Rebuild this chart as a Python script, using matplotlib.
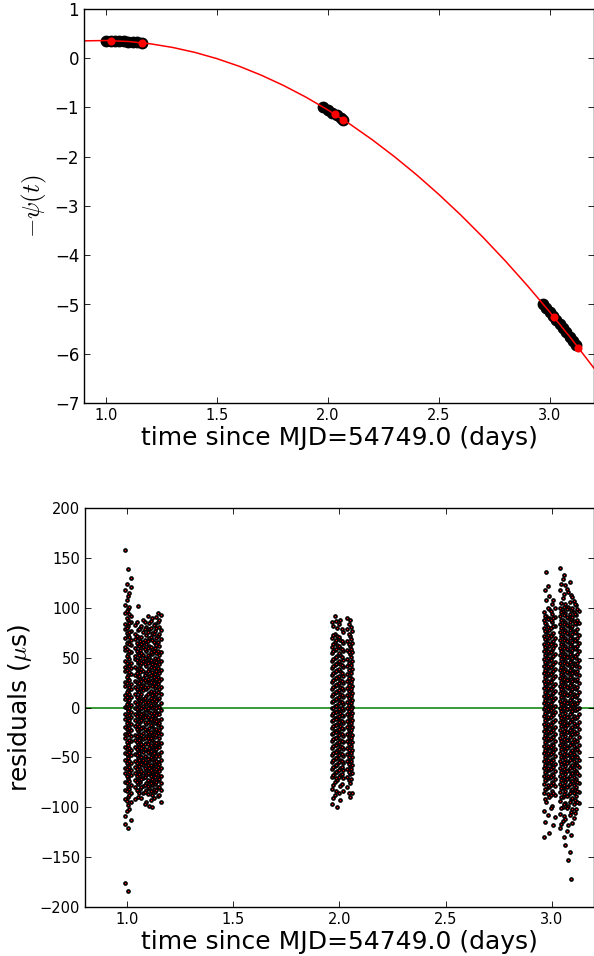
import numpy as np
import matplotlib.pyplot as plt

plt.rcParams['mathtext.fontset'] = 'cm'
plt.rcParams['xtick.direction'] = 'in'
plt.rcParams['ytick.direction'] = 'in'
plt.rcParams['xtick.top'] = True
plt.rcParams['ytick.right'] = True
plt.rcParams['xtick.major.size'] = 4
plt.rcParams['ytick.major.size'] = 4
plt.rcParams['xtick.major.width'] = 0.6
plt.rcParams['ytick.major.width'] = 0.6
plt.rcParams['axes.linewidth'] = 1.0

# model phase curve -psi(t), read every 0.1 day
curve_t = [0.9, 1.0, 1.1, 1.2, 1.3, 1.4, 1.5, 1.6, 1.7, 1.8, 1.9, 2.0,
           2.1, 2.2, 2.3, 2.4, 2.5, 2.6, 2.7, 2.8, 2.9, 3.0, 3.1, 3.2]
curve_psi = [0.353, 0.36, 0.34, 0.293, 0.219, 0.119, -0.009, -0.163, -0.345,
             -0.553, -0.788, -1.05, -1.339, -1.655, -1.998, -2.367, -2.764,
             -3.187, -3.638, -4.115, -4.619, -5.15, -5.708, -6.293]

# measured phases (black band)
obs_t = [1.00, 1.02, 1.04, 1.06, 1.08, 1.10, 1.12, 1.14, 1.16,
         1.98, 2.00, 2.02, 2.04, 2.06, 2.07,
         2.97, 2.985, 3.00, 3.015, 3.03, 3.045, 3.06, 3.075, 3.09, 3.105, 3.12]
obs_psi = [0.36, 0.358, 0.355, 0.351, 0.346, 0.34, 0.333, 0.325, 0.315,
           -0.995, -1.05, -1.106, -1.162, -1.22, -1.25,
           -4.988, -5.069, -5.15, -5.232, -5.315, -5.398, -5.482, -5.566,
           -5.651, -5.736, -5.823]

# red markers
mark_t = [1.02, 1.16, 2.03, 2.07, 3.02, 3.13]
mark_psi = [0.358, 0.315, -1.134, -1.25, -5.26, -5.88]

# residuals (microseconds), one list per column of TOAs
cols_A_t = [0.990, 1.003, 1.016, 0.996, 1.009]
cols_A = [
    [158, 118, 103, 95, 84, 79, 70, 61, 58, 47, 41, 37, 26, 22, 13, 9, 1, -7, -12, -20, -27, -31, -40, -46, -53, -61, -66, -75, -83, -92, -109, -117, -176],
    [139, 112, 99, 88, 82, 73, 66, 54, 51, 44, 33, 29, 18, 15, 6, -2, -4, -14, -18, -25, -36, -38, -49, -51, -58, -70, -72, -80, -90, -98, -121, -184],
    [130, 121, 92, 86, 77, 68, 63, 56, 45, 40, 34, 24, 19, 11, 3, -5, -10, -17, -23, -29, -34, -43, -48, -56, -63, -68, -78, -86, -95, -113],
    [124, 108, 97, 90, 80, 75, 65, 59, 52, 45, 38, 31, 25, 16, 11, 4, -1, -9, -16, -22, -28, -35, -42, -47, -56, -62, -69, -76, -84, -94, -104],
    [115, 101, 94, 85, 76, 71, 64, 57, 49, 42, 36, 28, 21, 14, 8, 0, -8, -13, -21, -27, -33, -41, -45, -54, -60, -65, -74, -82, -88, -102],
]
cols_B_t = [1.038, 1.048, 1.058, 1.074, 1.088, 1.102, 1.116, 1.130, 1.144, 1.156,
            1.043, 1.053, 1.066, 1.081, 1.095, 1.109, 1.123, 1.137, 1.150]
cols_B = [
    [83, 74, 69, 60, 52, 49, 41, 33, 27, 21, 14, 6, 0, -7, -13, -19, -28, -33, -40, -47, -54, -60, -66, -73, -80, -92],
    [102, 78, 71, 63, 55, 45, 38, 31, 24, 17, 10, 3, -4, -10, -16, -24, -30, -37, -44, -51, -57, -64, -70, -77, -84, -90],
    [80, 67, 58, 50, 43, 36, 29, 20, 12, 5, -2, -9, -15, -22, -31, -35, -42, -49, -55, -62, -69, -75, -82],
    [88, 76, 66, 61, 53, 47, 37, 30, 23, 18, 9, 2, -6, -11, -20, -26, -32, -39, -45, -53, -58, -66, -71, -79, -86],
    [81, 73, 64, 57, 48, 42, 35, 26, 19, 12, 4, -3, -8, -17, -23, -29, -36, -43, -50, -56, -63, -68, -76, -83, -95],
    [85, 79, 70, 62, 51, 46, 39, 32, 25, 15, 8, 1, -5, -12, -21, -27, -34, -41, -46, -54, -61, -67, -74, -81, -99],
    [90, 75, 68, 59, 54, 44, 36, 28, 22, 13, 7, -1, -9, -14, -19, -28, -33, -40, -48, -52, -59, -65, -72, -78, -88, -100],
    [84, 77, 65, 60, 50, 43, 34, 27, 20, 11, 5, -4, -11, -16, -25, -30, -38, -44, -51, -57, -64, -70, -77, -85],
    [95, 86, 72, 66, 57, 49, 40, 31, 24, 16, 9, 2, -6, -13, -18, -26, -35, -39, -47, -55, -60, -68, -73, -80, -89],
    [93, 78, 69, 56, 47, 38, 29, 21, 14, 5, -3, -12, -20, -27, -36, -45, -53, -61, -69, -76, -83, -95],
    [86, 72, 65, 57, 48, 39, 35, 26, 19, 11, 4, -2, -9, -17, -22, -29, -35, -42, -48, -56, -62, -69, -75, -83],
    [79, 70, 62, 53, 46, 40, 32, 25, 16, 8, 1, -6, -14, -19, -27, -33, -40, -46, -53, -59, -67, -73, -86],
    [82, 71, 64, 55, 45, 39, 27, 22, 14, 7, -1, -7, -13, -21, -28, -37, -41, -50, -57, -64, -72, -80, -91],
    [86, 79, 68, 59, 50, 44, 33, 28, 21, 10, 6, -2, -10, -15, -22, -31, -37, -42, -49, -55, -61, -70, -78, -85, -97],
    [92, 76, 67, 60, 53, 45, 37, 29, 21, 14, 6, -1, -10, -15, -25, -31, -37, -45, -52, -58, -66, -73, -79, -87],
    [87, 80, 71, 61, 56, 48, 41, 33, 26, 17, 10, 3, -6, -12, -18, -25, -31, -38, -44, -50, -58, -63, -69, -76, -84, -93],
    [83, 74, 66, 57, 47, 40, 31, 25, 16, 9, 1, -6, -13, -22, -27, -35, -42, -46, -55, -61, -67, -74, -82, -91],
    [91, 80, 70, 63, 55, 46, 37, 29, 22, 14, 7, -1, -8, -14, -22, -28, -36, -42, -49, -54, -62, -67, -75, -83],
    [88, 81, 74, 62, 53, 44, 35, 27, 19, 10, 1, -7, -16, -23, -31, -40, -49, -57, -64, -72, -80, -88],
]
cols_C_t = [1.964, 1.977, 1.990, 2.003, 2.016, 2.037, 2.049, 2.060,
            1.970, 1.983, 1.997, 2.010, 2.043, 2.055]
cols_C = [
    [86, 70, 61, 55, 47, 40, 33, 26, 19, 12, 6, -1, -8, -14, -21, -27, -34, -41, -48, -55, -62, -70, -82, -97],
    [92, 74, 66, 58, 50, 43, 36, 29, 22, 15, 8, 2, -5, -11, -18, -24, -31, -38, -45, -52, -59, -66, -75, -88],
    [80, 72, 63, 52, 45, 38, 31, 24, 17, 10, 3, -4, -10, -17, -23, -30, -36, -43, -50, -57, -64, -73, -100],
    [88, 68, 60, 53, 44, 37, 28, 21, 14, 7, 0, -6, -13, -19, -26, -33, -39, -46, -53, -61, -68, -79, -93],
    [76, 65, 57, 48, 41, 32, 25, 18, 11, 4, -3, -9, -16, -22, -29, -35, -42, -49, -56, -63, -71, -84],
    [90, 79, 67, 58, 49, 42, 34, 27, 20, 13, 6, -1, -7, -14, -20, -27, -34, -41, -47, -54, -62, -70, -80],
    [88, 72, 62, 54, 46, 38, 31, 24, 16, 9, 2, -5, -12, -18, -25, -32, -38, -45, -52, -59, -67, -76, -90],
    [77, 65, 56, 47, 39, 29, 22, 15, 8, 1, -6, -13, -20, -28, -35, -43, -50, -58, -66, -86],
    [82, 73, 64, 57, 49, 42, 35, 28, 21, 14, 7, 0, -6, -13, -19, -26, -32, -39, -46, -53, -60, -68, -78, -91],
    [87, 68, 59, 51, 44, 37, 30, 23, 16, 9, 2, -5, -12, -18, -25, -31, -38, -45, -51, -58, -65, -71, -84],
    [84, 71, 62, 55, 47, 39, 32, 25, 18, 11, 5, -2, -9, -15, -22, -28, -35, -42, -48, -55, -63, -70, -86],
    [79, 67, 59, 51, 43, 35, 27, 20, 13, 6, -1, -8, -14, -21, -27, -34, -40, -47, -54, -60, -67, -77],
    [84, 74, 64, 56, 45, 38, 30, 23, 17, 10, 3, -4, -10, -17, -23, -30, -37, -43, -50, -57, -65, -73, -86],
    [81, 69, 59, 51, 43, 35, 26, 19, 12, 5, -2, -9, -16, -23, -31, -39, -46, -54, -62, -72],
]
cols_D_t = [2.963, 2.976, 2.989, 3.002, 3.014,
            3.039, 3.052, 3.065, 3.078, 3.091, 3.104, 3.117, 3.127,
            2.969, 2.982, 2.995, 3.008,
            3.045, 3.058, 3.071, 3.085, 3.098, 3.111, 3.122]
cols_D = [
    [96, 88, 80, 72, 64, 57, 49, 42, 35, 27, 20, 12, 5, -2, -9, -17, -24, -31, -39, -46, -54, -61, -69, -77, -86, -104, -130],
    [136, 108, 92, 84, 76, 68, 60, 53, 45, 38, 31, 23, 16, 9, 1, -6, -13, -21, -28, -35, -43, -50, -57, -65, -73, -82, -95],
    [112, 99, 90, 78, 70, 62, 55, 47, 40, 33, 25, 18, 10, 3, -4, -11, -19, -26, -33, -41, -48, -56, -63, -71, -80, -90, -126],
    [104, 94, 86, 74, 66, 58, 51, 43, 36, 29, 21, 14, 7, -1, -7, -15, -22, -30, -37, -44, -52, -59, -67, -75, -84, -99],
    [100, 91, 82, 70, 63, 54, 46, 39, 32, 24, 17, 10, 2, -5, -13, -20, -27, -34, -42, -49, -57, -64, -72, -79, -88, -110],
    [140, 118, 100, 92, 84, 76, 68, 60, 53, 45, 38, 30, 22, 15, 7, 0, -8, -15, -23, -31, -38, -46, -54, -61, -69, -77, -85, -94, -107, -121],
    [129, 110, 97, 88, 80, 72, 64, 56, 49, 41, 33, 26, 18, 11, 3, -4, -12, -19, -27, -35, -42, -50, -57, -65, -73, -81, -90, -100, -114],
    [123, 104, 95, 86, 78, 70, 62, 54, 47, 39, 31, 24, 16, 8, 1, -6, -14, -21, -29, -37, -44, -52, -59, -67, -75, -84, -96, -112, -138],
    [116, 101, 90, 82, 74, 66, 58, 51, 43, 35, 28, 20, 13, 5, -2, -10, -17, -25, -33, -40, -48, -55, -63, -71, -79, -88, -99, -118, -153],
    [113, 98, 89, 80, 71, 63, 55, 48, 40, 32, 25, 17, 9, 2, -6, -13, -21, -28, -36, -44, -51, -59, -66, -74, -83, -92, -105, -128, -172],
    [107, 96, 87, 77, 69, 61, 52, 45, 37, 29, 22, 14, 6, -1, -9, -16, -24, -32, -39, -47, -54, -62, -70, -78, -86, -97, -111],
    [103, 93, 84, 75, 67, 59, 50, 42, 34, 27, 19, 11, 4, -3, -11, -19, -26, -34, -41, -49, -56, -64, -72, -80, -89, -102],
    [97, 85, 73, 65, 57, 48, 41, 33, 25, 16, 8, 0, -7, -15, -22, -30, -38, -45, -53, -60, -68, -76, -85, -96],
    [118, 92, 85, 77, 69, 61, 53, 46, 38, 31, 24, 16, 8, 1, -6, -13, -20, -28, -35, -43, -50, -58, -65, -73, -82, -92, -115],
    [122, 100, 89, 81, 73, 65, 57, 50, 42, 35, 27, 20, 13, 5, -2, -10, -17, -24, -31, -39, -46, -53, -61, -69, -78, -87, -108],
    [97, 88, 80, 72, 64, 56, 48, 41, 34, 26, 19, 11, 4, -3, -10, -18, -25, -32, -40, -47, -55, -62, -70, -78, -88, -101],
    [108, 90, 82, 75, 67, 60, 52, 44, 37, 30, 22, 15, 8, 0, -8, -15, -23, -30, -38, -45, -53, -60, -68, -76, -86, -118],
    [124, 105, 96, 88, 80, 72, 64, 57, 49, 41, 34, 26, 19, 11, 4, -4, -11, -19, -27, -34, -42, -50, -57, -65, -73, -81, -90, -101, -117],
    [133, 114, 101, 93, 84, 76, 68, 60, 52, 45, 37, 29, 22, 14, 6, -1, -9, -16, -24, -32, -39, -47, -55, -62, -70, -78, -87, -97, -109, -130],
    [119, 99, 91, 83, 75, 67, 59, 51, 44, 36, 28, 21, 13, 5, -2, -10, -18, -25, -33, -41, -48, -56, -64, -72, -80, -89, -101, -124],
    [126, 106, 94, 86, 78, 70, 62, 54, 46, 38, 31, 23, 15, 8, 0, -7, -15, -23, -30, -38, -46, -53, -61, -69, -77, -86, -95, -108, -145],
    [111, 100, 91, 82, 74, 66, 58, 50, 42, 35, 27, 19, 11, 4, -4, -12, -20, -27, -35, -43, -50, -58, -66, -74, -82, -91, -102, -116],
    [104, 94, 85, 76, 68, 60, 52, 44, 36, 28, 20, 12, 4, -3, -11, -19, -27, -35, -43, -50, -58, -66, -74, -83, -93, -106],
    [99, 88, 79, 70, 62, 54, 45, 37, 29, 21, 13, 5, -2, -10, -18, -26, -34, -42, -50, -58, -66, -75, -84, -95],
]

fig = plt.figure(figsize=(5.94, 9.56), dpi=100)
W, H = 594.0, 956.0

# top panel: phase vs time
ax1 = fig.add_axes([84 / W, 1 - 403 / H, 510 / W, 394 / H])
ax1.plot(obs_t, obs_psi, 'ko', markersize=7.5)
ax1.plot(curve_t, curve_psi, 'r-', linewidth=1.1)
ax1.plot(mark_t, mark_psi, 'ro', markersize=4.8, markeredgecolor='r')
ax1.set_xlim(0.9, 3.2)
ax1.set_ylim(-7, 1)
ax1.set_xticks([1.0, 1.5, 2.0, 2.5, 3.0])
ax1.set_yticks(range(-7, 2))
ax1.tick_params(axis='x', labelsize=10.5)
ax1.tick_params(axis='y', labelsize=12)
ax1.set_xlabel('time since MJD=54749.0 (days)', fontsize=18, labelpad=2)
ax1.set_ylabel(r'$-\psi(t)$', fontsize=18)

# bottom panel: residuals
ax2 = fig.add_axes([85 / W, 1 - 907 / H, 509 / W, 399 / H])
ax2.axhline(0, color=(0, 0.5, 0), linewidth=1.1, zorder=1)
for group_t, group in [(cols_A_t, cols_A), (cols_B_t, cols_B),
                       (cols_C_t, cols_C), (cols_D_t, cols_D)]:
    for t, col in zip(group_t, group):
        ax2.plot([t] * len(col), col, 'o', color='r', markeredgecolor='k',
                 markeredgewidth=1.2, markersize=2.2, linestyle='none', zorder=2)
ax2.set_xlim(0.8, 3.2)
ax2.set_ylim(-200, 200)
ax2.set_xticks([1.0, 1.5, 2.0, 2.5, 3.0])
ax2.set_yticks(range(-200, 201, 50))
ax2.tick_params(axis='both', labelsize=10.5)
ax2.set_xlabel('time since MJD=54749.0 (days)', fontsize=18, labelpad=2)
ax2.set_ylabel(r'residuals ($\mu$s)', fontsize=18)

fig.savefig('out.png', dpi=100, facecolor='white')
